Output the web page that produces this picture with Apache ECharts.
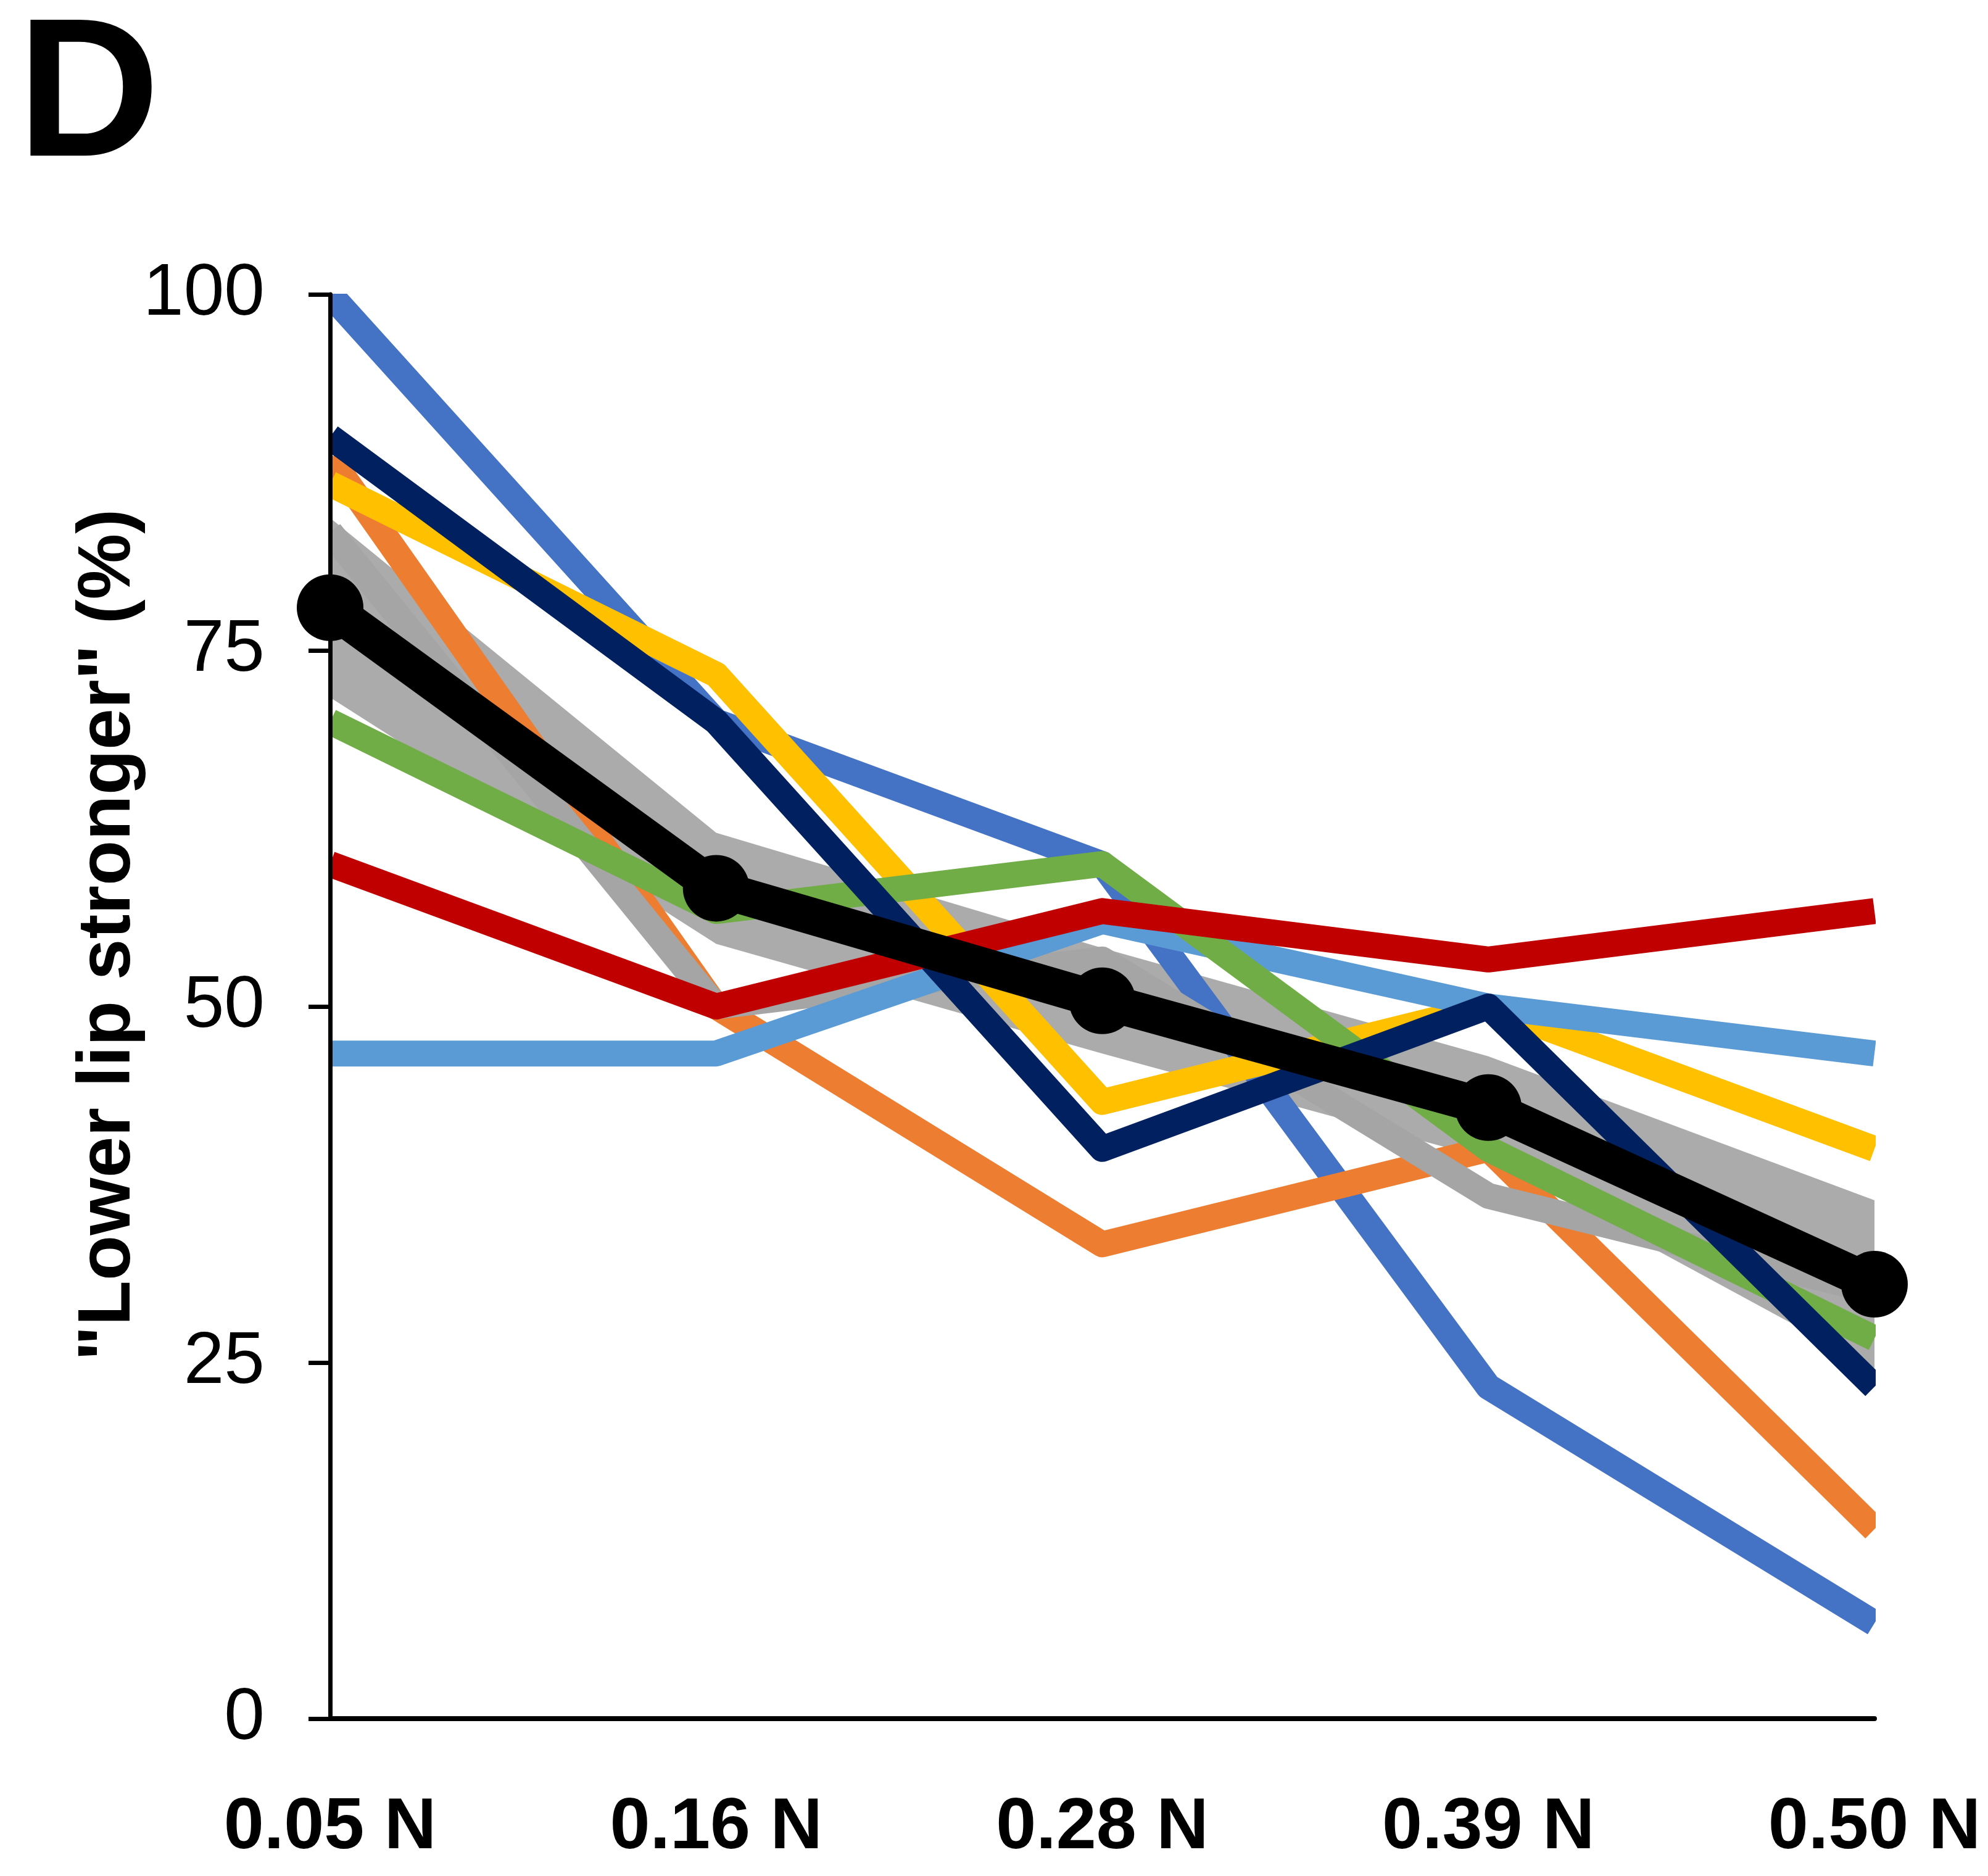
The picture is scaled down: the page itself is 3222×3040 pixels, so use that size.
<!DOCTYPE html>
<html>
<head>
<meta charset="utf-8">
<script src="https://cdn.jsdelivr.net/npm/echarts@6/dist/echarts.min.js"></script>
<style>
  html, body { margin: 0; padding: 0; background: #ffffff; }
  #chart { width: 3222px; height: 3040px; }
</style>
</head>
<body>
<div id="chart"></div>
<script>
// ---- data ----
const categories = ['0.05 N', '0.16 N', '0.28 N', '0.39 N', '0.50 N'];
const blueSubject      = [100, 70, 60, 23.3, 6.7];
const orangeSubject    = [88.5, 50, 33.3, 40, 13.3];
const graySubject      = [83.3, 50, 53.3, 36.7, 30];
const yellowSubject    = [86.7, 73.3, 43.3, 50, 40];
const lightBlueSubject = [46.7, 46.7, 56, 50, 46.7];
const greenSubject     = [70, 56.7, 60, 40, 26.7];
const navySubject      = [90, 70, 40, 50, 23.3];
const redSubject       = [60, 50, 56.7, 53.3, 56.7];
const meanValues       = [78.0, 58.3, 50.4, 42.9, 30.5];
const semValues        = [6.3, 3.9, 3.7, 3.6, 5.9];
const yAxisTitle = '"Lower lip stronger" (%)';
const panelLetter = 'D';

const subjects = [
  { name: 'S1', data: blueSubject,      color: '#4472C4' },
  { name: 'S2', data: orangeSubject,    color: '#ED7D31' },
  { name: 'S3', data: graySubject,      color: '#A5A5A5' },
  { name: 'S4', data: yellowSubject,    color: '#FFC000' },
  { name: 'S5', data: lightBlueSubject, color: '#5B9BD5' },
  { name: 'S6', data: greenSubject,     color: '#70AD47' },
  { name: 'S7', data: navySubject,      color: '#002060' },
  { name: 'S8', data: redSubject,       color: '#C00000' }
];

const bandLower = meanValues.map((m, i) => +(m - semValues[i]).toFixed(2));
const bandRange = semValues.map(s => +(2 * s).toFixed(2));

const FONT = '"Liberation Sans", Arial, Helvetica, sans-serif';

const series = [
  {
    name: 'SEM lower', type: 'line', data: bandLower, stack: 'band',
    symbol: 'none', lineStyle: { opacity: 0, width: 0 }, silent: true, z: 1
  },
  {
    name: 'SEM band', type: 'line', data: bandRange, stack: 'band',
    symbol: 'none', lineStyle: { opacity: 0, width: 0 },
    areaStyle: { color: '#ABABAB', opacity: 1 }, silent: true, z: 1
  }
];
subjects.forEach(s => {
  series.push({
    name: s.name, type: 'line', data: s.data,
    symbol: 'none', z: 2,
    lineStyle: { color: s.color, width: 42, cap: 'butt', join: 'round' },
    itemStyle: { color: s.color }
  });
});
series.push({
  name: 'Mean', type: 'line', data: meanValues, z: 6,
  symbol: 'circle', symbolSize: 108, showSymbol: true,
  lineStyle: { color: '#000000', width: 60, cap: 'butt', join: 'round' },
  itemStyle: { color: '#000000' }
});

const chart = echarts.init(document.getElementById('chart'), null, { renderer: 'canvas' });
chart.setOption({
  animation: false,
  backgroundColor: '#ffffff',
  grid: { left: 535, right: 184, top: 477, bottom: 255, containLabel: false },
  xAxis: {
    type: 'category', data: categories, boundaryGap: false, z: 10,
    axisLine: { show: true, lineStyle: { color: '#000000', width: 8 } },
    axisTick: { show: false },
    splitLine: { show: false },
    axisLabel: {
      color: '#000000', fontFamily: FONT, fontWeight: 'bold', fontSize: 117,
      margin: 178, verticalAlign: 'middle', interval: 0
    }
  },
  yAxis: {
    type: 'value', min: 0, max: 100, interval: 25, z: 10,
    axisLine: { show: true, lineStyle: { color: '#000000', width: 7 } },
    axisTick: { show: true, length: 35, lineStyle: { color: '#000000', width: 7 } },
    splitLine: { show: false },
    axisLabel: { color: '#000000', fontFamily: FONT, fontSize: 118, margin: 106 }
  },
  graphic: [
    { type: 'rect', z: 5, silent: true, shape: { x: 488, y: 420, width: 44, height: 2380 }, style: { fill: '#ffffff' } },
    { type: 'rect', z: 5, silent: true, shape: { x: 532, y: 400, width: 2620, height: 76 }, style: { fill: '#ffffff' } },
    { type: 'rect', z: 5, silent: true, shape: { x: 3040, y: 420, width: 90, height: 2380 }, style: { fill: '#ffffff' } },
    {
      type: 'text', z: 20, x: 28, y: 164,
      style: { text: panelLetter, fill: '#000000', font: 'bold 320px ' + FONT, align: 'left', verticalAlign: 'middle' }
    },
    {
      type: 'text', z: 20, x: 177, y: 1515, rotation: Math.PI / 2,
      style: { text: yAxisTitle, fill: '#000000', font: 'bold 120px ' + FONT, align: 'center', verticalAlign: 'middle' }
    }
  ],
  series: series
});
</script>
</body>
</html>
